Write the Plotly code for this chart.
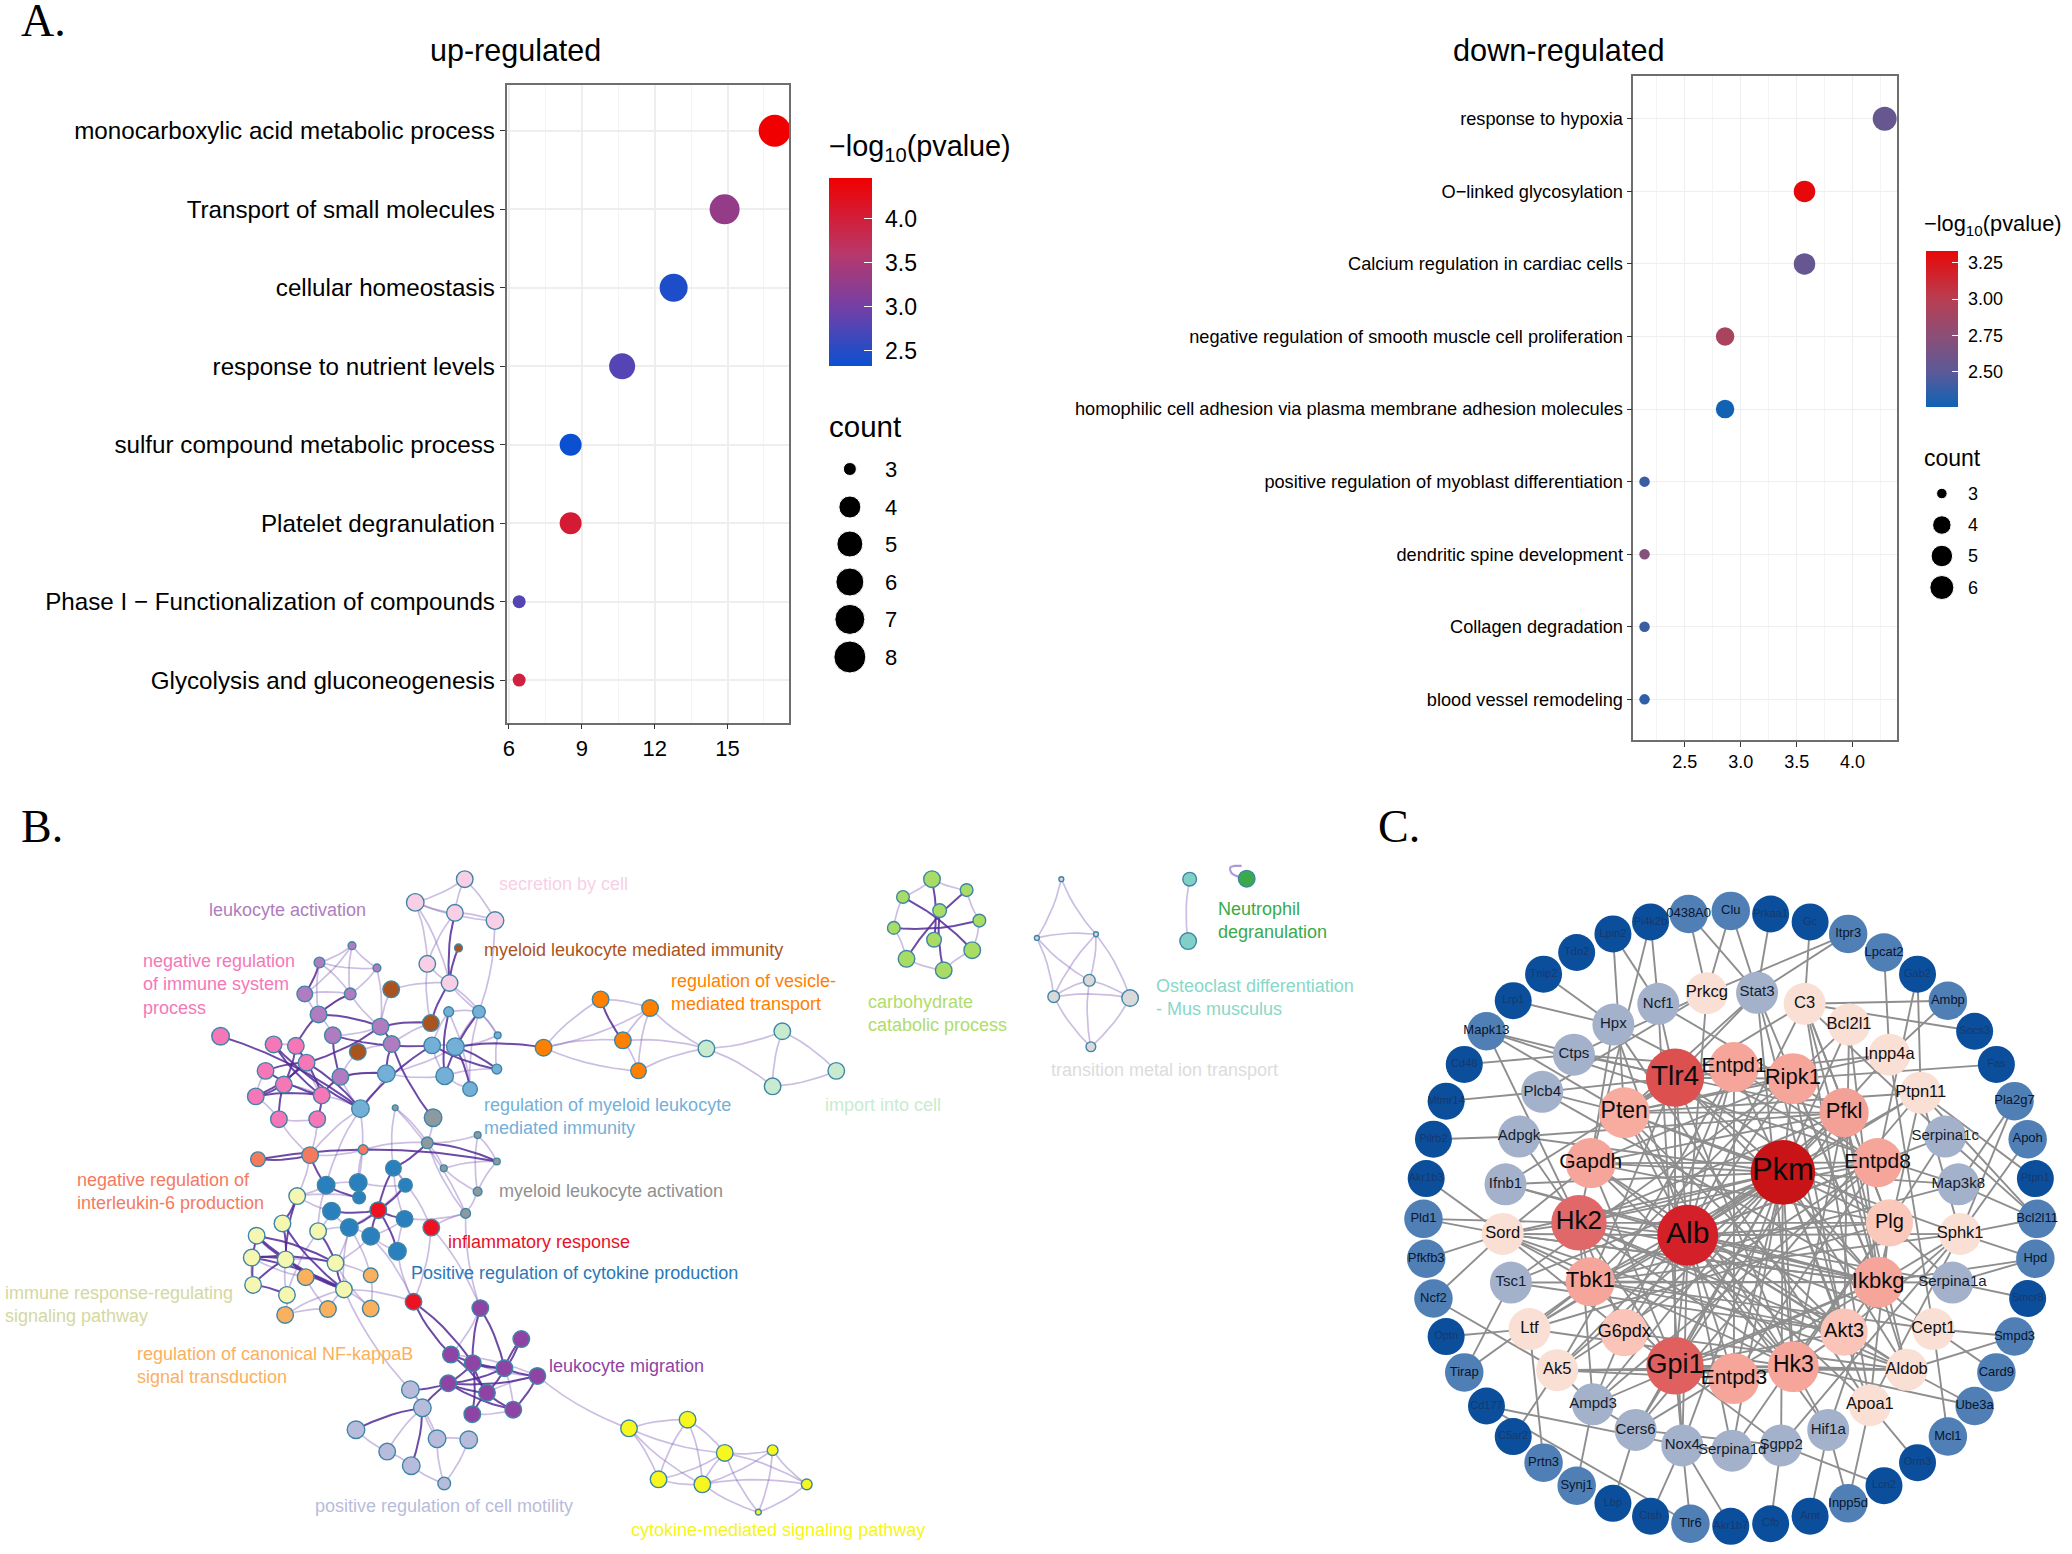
import plotly.graph_objects as go

W, H = 2072, 1554
SANS = "Liberation Sans"

# ---------- Panel A, up-regulated ----------
up_terms = ["monocarboxylic acid metabolic process", "Transport of small molecules", "cellular homeostasis",
            "response to nutrient levels", "sulfur compound metabolic process", "Platelet degranulation",
            "Phase I \u2212 Functionalization of compounds", "Glycolysis and gluconeogenesis"]
up_x = [16.94, 14.88, 12.78, 10.66, 8.54, 8.54, 6.42, 6.42]
up_count = [8, 7, 6, 5, 4, 4, 3, 3]
up_logp = [4.47, 3.3, 2.45, 2.8, 2.33, 4.05, 2.8, 3.95]
up_size = {3: 13, 4: 22, 5: 26, 6: 28, 7: 30, 8: 32}
up_cb_ticks = [2.5, 3.0, 3.5, 4.0]

# ---------- Panel A, down-regulated ----------
down_terms = ["response to hypoxia", "O\u2212linked glycosylation", "Calcium regulation in cardiac cells",
              "negative regulation of smooth muscle cell proliferation",
              "homophilic cell adhesion via plasma membrane adhesion molecules",
              "positive regulation of myoblast differentiation", "dendritic spine development",
              "Collagen degradation", "blood vessel remodeling"]
down_x = [4.287, 3.57, 3.57, 2.86, 2.86, 2.14, 2.14, 2.14, 2.14]
down_count = [6, 5, 5, 4, 4, 3, 3, 3, 3]
down_logp = [2.56, 3.33, 2.56, 2.92, 2.27, 2.40, 2.72, 2.40, 2.36]
down_size = {3: 10.5, 4: 18.5, 5: 21.5, 6: 24}
down_cb_ticks = [2.50, 2.75, 3.00, 3.25]

COLORSCALE_UP = [[0, "#0a50d0"], [0.3, "#7040a8"], [0.6, "#b8386a"], [1, "#f00000"]]
COLORSCALE_DOWN = [[0, "#0f62b5"], [0.22, "#5a5a98"], [0.45, "#8a4f78"], [0.69, "#b83e52"], [1, "#e80808"]]

# ---------- Panel B, network nodes (x, y, diameter as read from crops) ----------
# crop A: x/2.24, 840+y/2.196   crop B: 540+x/1.96, 840+y/2.196
S = [(1034,86,34),(923,137,36),(1012,160,34),(1102,177,36),(950,272,34),(1000,314,34)]
L = [(781,232,16),(708,269,22),(837,281,16),(675,338,32),(777,338,24),(706,383,34),(845,410,34),(738,429,34),(870,448,34),(755,520,34)]
N = [(486,431,36),(605,449,34),(655,452,34),(679,489,34),(587,507,34),(628,537,34),(565,563,34),(713,561,34),(617,613,34),(703,613,34)]
M = [(1020,237,16),(869,328,34),(958,402,34),(794,465,34)]
R = [(998,377,20),(1066,377,26),(1108,429,14),(961,451,34),(1013,454,36),(1106,503,20),(858,513,36),(989,518,36),(1046,547,30),(800,590,36)]
G = [(878,588,12),(963,610,36),(950,665,24),(1063,648,14),(1106,706,14),(987,721,14),(1063,772,18),(1036,820,20)]
I = [(570,701,30),(687,692,34),(806,680,20)]
P = [(874,721,32),(723,758,36),(795,752,36),(901,758,28),(797,785,26),(735,815,36),(899,832,34),(775,851,36),(823,870,36),(883,903,36)]
F = [(840,813,34),(959,851,34),(919,1014,34)]
Y = [(658,782,34),(625,842,34),(705,859,34),(567,869,34),(556,917,34),(632,921,34),(744,929,34),(559,977,34),(635,999,34),(763,987,34)]
O = [(677,960,34),(823,956,30),(727,1030,34),(823,1029,34),(631,1043,34)]
V = [(1069,1028,34),(1161,1096,34),(1003,1130,34),(1052,1149,34),(1123,1160,34),(1197,1177,34),(997,1193,34),(1084,1214,34),(1051,1261,34),(1143,1251,34)]
Q = [(912,1207,36),(939,1247,36),(790,1295,36),(972,1315,36),(1043,1317,36),(860,1343,34),(914,1374,36),(988,1413,26)]
T = [(1211,456,34),(1339,350,34),(1450,369,34),(1389,440,34),(1424,507,32)]
A = [(321,458,34),(470,420,34),(451,541,34),(576,507,34)]
C = [(169,1292,34),(284,1273,34),(357,1346,34),(451,1340,22),(227,1404,34),(313,1415,34),(518,1415,22),(423,1476,12)]
K = [(764,86,34),(832,110,26),(707,125,26),(779,155,28),(857,177,26),(689,193,26),(768,219,30),(843,242,34),(714,261,34),(787,286,34)]
X = [(1018,86,10),(1086,207,10),(970,215,10),(1073,308,24),(1003,344,24),(1153,347,34),(1076,454,20)]
Z = [(1270,86,28),(1267,222,34)]
E = [(1382,85,34)]

clusters_a = {"S": (S, "#f8cfe5"), "L": (L, "#b07cc0"), "N": (N, "#f577b8"), "M": (M, "#a9541f"), "R": (R, "#74afd8"),
              "G": (G, "#8c9aa0"), "I": (I, "#f47a5e"), "P": (P, "#2a80bd"), "F": (F, "#ee1122"), "Y": (Y, "#f5f7b0"),
              "O": (O, "#fbb05e"), "V": (V, "#8e44a4"), "Q": (Q, "#b8bcdc"), "T": (T, "#ff7f00")}
clusters_b = {"A": (A, "#c8ebcf"), "C": (C, "#f7f71f"), "K": (K, "#a8dc64"), "X": (X, "#d9d9d9"), "Z": (Z, "#80d0c8"),
              "E": (E, "#3aaa4a")}

dark_edges = """N0-R9 N1-R9 N2-N5 N3-N5 N4-N3 N6-N3 N5-N6 N5-N8 N7-N9 N1-N7 N2-N7 N4-N7 N6-N7 R9-N3 L1-L3 L4-L5 L5-L6 L5-N2
L6-N3 L8-R6 L6-L8 L7-L9 L9-R6 L8-G1 R9-R3 R3-R5 R4-R5 R1-R7 R4-R8 R0-R7 R4-T0 L7-R3 M2-S5 S2-S5 S5-M0 L9-N7 L6-M2
P1-P4 P2-P4 P0-F0 P3-F0 P5-F0 P6-F0 P7-F0 P8-F0 P9-F0 P1-I1 I0-I1 I0-G4 P0-G2 G2-G4 Y3-Y5 Y3-Y6 Y3-Y7 Y4-Y5 Y5-Y7 Y1-Y5
Y0-Y5 Y0-Y1 Y1-Y9 Y4-Y6 Y5-Y9 Y2-Y6 Y6-Y9 Y7-Y8 Y3-Y9 Y4-Y9 V0-V3 V0-V4 V1-V4 V1-V7 V2-V4 V2-V7 V3-V4 V3-V6 V3-V7 V4-V6
V4-V5 V5-V6 V6-V7 V5-V9 V7-V9 V8-V7 V8-V3 V9-V6 F2-V2 F2-V3 Q1-Q2 Q1-V6 Q0-V6 Q1-Q6 T1-T3 K0-K6 K1-K8 K2-K7 K3-K9 K4-K5"""
light_edges = """L0-L1 L0-L2 L0-L3 L0-L4 L1-L4 L1-L2 L2-L4 L1-L5 L2-L6 L3-L5 L3-L4 L4-L5 L5-L7 L4-L6 L6-L7 M1-L6 M1-S5 M2-L8 M3-L8 M3-L9
S0-S1 S0-S2 S0-S3 S1-S2 S2-S3 S1-S3 S1-S4 S2-S4 S3-R1 S4-S5 S1-S5 S5-R1 S5-R2 S4-M2 R0-R1 R0-R3 R1-R2 R1-R4 R2-R4 R2-R5 R3-R4
R3-R7 R7-R5 R7-R8 R0-R8 R1-R8 R4-R6 R6-R7 R6-R9 R6-L9 R9-L9 R9-P1 R9-P2 R9-I1 G1-G2 G2-G3 G3-G4 G3-G6 G2-G5 G5-G6 G6-G7 G2-G7
G0-G2 G0-P0 G0-G7 G4-G6 G5-G4 I1-I2 I2-G2 I2-P2 I1-Y0 N8-I1 N9-I1 P6-G7 F1-G7 F1-P0 P1-P2 P2-P3 P3-P7 P5-P7 P7-P8 P8-P9 P6-P8
P6-P9 P0-P3 P0-P6 P5-Y2 P7-Y2 P7-Y6 P7-Y9 P8-Y6 P4-Y0 P1-Y0 P1-Y2 P5-Y0 N4-N6 N6-N8 N8-N9 N5-N7 N3-N7 N1-N2 N2-N3 N7-R9
O0-Y5 O0-Y9 O0-O2 O0-Y4 O1-Y6 O1-O3 O2-O4 O2-Y9 O3-Y9 O3-Y6 O4-Y8 O4-Y9 O1-P7 Y9-F2 P9-F2 P8-F2 Y2-Y8 Y8-Y5 Y4-Y7 Y5-Y6
Y9-Q0 F1-V0 G7-V0 F1-F2 V5-C0 V0-V2 V3-V5 V2-V5 V5-V7 V4-V9 V8-V9 Q0-Q1 Q1-Q5 Q0-Q3 Q1-Q3 Q3-Q4 Q3-Q7 Q4-Q7 Q6-Q7 Q5-Q6 Q2-Q5
T1-T2 T2-T3 T0-T1 T0-T2 T0-T3 T0-T4 T3-T4 T2-T4 T4-A0 T2-A0 T3-A0 A0-A1 A0-A2 A1-A2 A1-A3 A2-A3
C0-C1 C0-C2 C0-C4 C0-C5 C1-C2 C1-C4 C1-C5 C2-C3 C2-C4 C2-C5 C2-C6 C2-C7 C3-C5 C3-C6 C3-C7 C4-C5 C5-C6 C5-C7 C6-C7
K0-K1 K0-K2 K2-K5 K5-K8 K8-K9 K9-K7 K7-K4 K4-K1 X0-X1 X0-X2 X1-X2 X1-X3 X1-X4 X1-X5 X2-X3 X2-X4 X3-X4 X3-X5 X3-X6 X4-X5 X4-X6 X5-X6 Z0-Z1"""
neutrophil_loop_x = [1370, 1352, 1350, 1358, 1372]
neutrophil_loop_y = [82, 72, 60, 57, 57]

b_labels_a = [("secretion by cell", 1118, 96, "#f8cfe5"), ("leukocyte activation", 467, 154, "#b07cc0"),
              ("myeloid leukocyte mediated immunity", 1085, 241, "#a9541f"),
              ("negative regulation<br>of immune system<br>process", 319, 317, "#f577b8"),
              ("regulation of myeloid leukocyte<br>mediated immunity", 1085, 608, "#74afd8"),
              ("myeloid leukocyte activation", 1118, 770, "#909090"),
              ("negative regulation of<br>interleukin-6 production", 170, 772, "#f47a5e"),
              ("inflammatory response", 1004, 882, "#e8102a"),
              ("Positive regulation of cytokine production", 920, 950, "#2a78b8"),
              ("immune response-regulating<br>signaling pathway", 8, 1020, "#d4d8a0"),
              ("regulation of canonical NF-kappaB<br>signal transduction", 305, 1155, "#fbb05e"),
              ("leukocyte migration", 1231, 1156, "#8e44a4"),
              ("positive regulation of cell motility", 704, 1463, "#b8bcdc")]
b_labels_b = [("regulation of vesicle-<br>mediated transport", 257, 335, "#ff7f00"),
              ("import into cell", 559, 581, "#c8ebcf"),
              ("cytokine-mediated signaling pathway", 178, 1515, "#f5f51a"),
              ("carbohydrate<br>catabolic process", 644, 381, "#b0dc6a"),
              ("Neutrophil<br>degranulation", 1331, 176, "#3aaa4a"),
              ("Osteoclast differentiation<br>- Mus musculus", 1210, 346, "#88d8c8"),
              ("transition metal ion transport", 1003, 506, "#dcdcdc")]

# ---------- Panel C, network nodes (name, x, y: 1360+x/2.202, 860+y/2.26) ----------
outer_dark = [("Prkaa1",903,122),("Gc",990,140),("Gab2",1227,258),("Socs3",1353,387),("Fas",1401,462),("Ptpn1",1487,720),
              ("Smcr8",1470,991),("Orm3",1227,1362),("Lcn2",1153,1414),("Arnt",990,1483),("Cfb",903,1500),("Akr1b7",815,1506),
              ("Ctsh",638,1483),("Lbp",555,1454),("C5ar2",335,1303),("Cd177",276,1234),("Optn",187,1077),("Akr1b3",143,720),
              ("Pilrb2",159,631),("Mtmr14",187,545),("Cd46",227,462),("Lrp1",335,318),("Tnip2",402,258),("Tdo2",475,209),
              ("Lpin2",555,167),("Pi4k2b",638,140)]
outer_mid = [("Clu",815,115),("Itpr3",1074,167),("Lpcat2",1153,209),("Ambp",1294,318),("Pla2g7",1441,545),("Apoh",1470,631),
             ("Bcl2l11",1491,811),("Hpd",1487,901),("Smpd3",1441,1077),("Card9",1401,1158),("Ube3a",1353,1234),("Mcl1",1294,1303),
             ("Inpp5d",1074,1454),("Tlr6",726,1500),("Synj1",475,1414),("Prtn3",402,1362),("Tirap",227,1158),("Ncf2",159,991),
             ("Pfkfb3",143,901),("Pld1",137,811),("Mapk13",276,387),("0438A0",722,122)]
ring_grey = [("Stat3",873,300),("Serpina1c",1288,625),("Map3k8",1317,733),("Serpina1a",1304,955),("Hif1a",1030,1288),
             ("Sgpp2",926,1323),("Serpina1d",818,1335),("Nox4",708,1323),("Cers6",605,1288),("Ampd3",511,1230),("Tsc1",330,955),
             ("Ifnb1",318,733),("Adpgk",348,625),("Plcb4",399,524),("Ctps",469,440),("Hpx",556,372),("Ncf1",655,325)]
ring_light = [("Prkcg",762,301),("C3",978,325),("Bcl2l1",1076,372),("Inpp4a",1165,440),("Ptpn11",1234,526),("Sphk1",1321,845),
              ("Cept1",1262,1060),("Aldob",1203,1152),("Apoa1",1122,1232),("Ak5",432,1153),("Ltf",371,1060),("Sord",312,845)]
# name, x, y, diameter, colour, font size
hubs = [("Tlr4",692,492,128,"#dc5050",28),("Entpd1",822,468,110,"#f5a59a",20.5),("Ripk1",952,494,112,"#f5a59a",22),
        ("Pfkl",1065,571,108,"#f3a097",22),("Entpd8",1139,684,108,"#f5a59a",21),("Plg",1165,820,104,"#fbc8bc",20),
        ("Ikbkg",1140,954,112,"#f5a59a",22),("Akt3",1065,1067,104,"#fbc4b8",20),("Hk3",953,1145,112,"#f5a59a",23),
        ("Entpd3",822,1172,112,"#f5a59a",21),("Gpi1",692,1143,126,"#e06060",27),("G6pdx",580,1068,104,"#fbc4b8",18),
        ("Tbk1",505,953,108,"#f5a59a",22),("Hk2",480,820,122,"#e06868",26),("Gapdh",506,685,110,"#f5a59a",21),
        ("Pten",580,571,112,"#f8aca0",23),("Pkm",930,706,142,"#c81416",31),("Alb",720,848,134,"#d42028",30)]

ppi_edges = """Sord-Pld1 Sord-Pfkfb3 Sord-Akr1b3 Sord-Ncf2 Adpgk-Pilrb2 Plcb4-Mtmr14 Ctps-Cd46 Hpx-Lrp1 Hpx-Tnip2 Ncf1-Lpin2 Ncf1-Pi4k2b
Prkcg-0438A0 Prkcg-Clu Stat3-0438A0 Stat3-Clu Stat3-Prkaa1 C3-Gc Prkcg-Itpr3 Stat3-Itpr3 C3-Ambp C3-Socs3 Inpp4a-Lpcat2 Ptpn11-Gab2
Ripk1-Fas Ambp-Inpp4a Ptpn11-Ptpn1 Map3k8-Pla2g7 Sphk1-Pla2g7 Sphk1-Apoh Serpina1a-Smcr8 Sphk1-Hpd Cept1-Card9 Aldob-Smpd3 Cept1-Smpd3
Aldob-Ube3a Hk3-Ube3a Ikbkg-Hpd Cept1-Mcl1 Apoa1-Orm3 Hif1a-Inpp5d Hif1a-Arnt Apoa1-Inpp5d Sgpp2-Cfb Sgpp2-Lcn2 Nox4-Akr1b7 Nox4-Tlr6
Nox4-Ctsh Cers6-Lbp Ampd3-Synj1 Ak5-C5ar2 Ltf-Prtn3 Tsc1-Tirap Ncf2-Ak5 Tirap-Tbk1 Mapk13-Hk2 Mapk13-Pten Cd177-Nox4 Optn-Ltf Tlr6-Cd177
Pi4k2b-Gapdh Lpin2-Pten Serpina1c-Bcl2l11 Serpina1a-Hpd Ptpn11-Bcl2l11 Sphk1-Bcl2l11 Map3k8-Bcl2l11 Gab2-Entpd8
Pkm-Alb Pkm-Tlr4 Pkm-Hk2 Pkm-Hk3 Pkm-Gpi1 Pkm-Pfkl Pkm-Gapdh Pkm-Ikbkg Pkm-Entpd1 Pkm-Entpd3 Pkm-Entpd8 Pkm-Plg Pkm-Aldob Pkm-Tbk1
Pkm-Akt3 Pkm-G6pdx Pkm-Ak5 Pkm-Pten Pkm-Ripk1 Pkm-Ampd3 Pkm-Sord Pkm-Sgpp2 Pkm-Map3k8 Pkm-Ptpn11 Pkm-Nox4 Pkm-Cers6 Pkm-Adpgk Pkm-Ifnb1
Pkm-Inpp4a Pkm-Bcl2l1 Pkm-Serpina1d Pkm-Ltf Pkm-Tsc1 Pkm-Apoa1
Alb-Tlr4 Alb-Hk2 Alb-Hk3 Alb-Gpi1 Alb-Pfkl Alb-Gapdh Alb-Ikbkg Alb-Entpd1 Alb-Entpd3 Alb-Entpd8 Alb-Plg Alb-Aldob Alb-Tbk1 Alb-Akt3
Alb-G6pdx Alb-Ak5 Alb-Pten Alb-Ripk1 Alb-Ptpn11 Alb-Serpina1c Alb-Serpina1a Alb-Serpina1d Alb-C3 Alb-Apoa1 Alb-Hpx Alb-Ifnb1 Alb-Sord
Alb-Cept1 Alb-Sphk1 Alb-Hif1a Alb-Nox4 Alb-Ltf Alb-Prkcg
Tlr4-Tbk1 Tlr4-Ripk1 Tlr4-Ikbkg Tlr4-Pten Tlr4-Gpi1 Tlr4-Stat3 Tlr4-Hk3 Tlr4-Plcb4 Tlr4-Mapk13 Tlr4-Ifnb1 Tlr4-Inpp4a Tlr4-Ncf1 Tlr4-Plg
Gpi1-Hk2 Gpi1-Hk3 Gpi1-Tbk1 Gpi1-Gapdh Gpi1-Pfkl Gpi1-Entpd3 Gpi1-Aldob Gpi1-Sgpp2 Gpi1-Nox4 Gpi1-Cers6 Gpi1-G6pdx Gpi1-Ikbkg Gpi1-Akt3
Hk2-Hk3 Hk2-Pfkl Hk2-Gapdh Hk2-Tbk1 Hk2-Plg Hk2-Sord Hk2-Aldob Hk2-Akt3 Hk2-Pld1 Hk2-Ikbkg Hk2-Entpd8 Hk2-Ampd3 Hk2-G6pdx
Tbk1-Ikbkg Tbk1-Ripk1 Tbk1-Akt3 Tbk1-Sord Tbk1-Sphk1 Tbk1-Serpina1a Tbk1-Map3k8 Tbk1-Cept1
Ikbkg-Ripk1 Ikbkg-Aldob Ikbkg-Cept1 Ikbkg-Sord Ikbkg-Akt3 Ikbkg-Plcb4 Ikbkg-Ampd3 Ikbkg-Pfkl Ikbkg-Ptpn11
Entpd1-Entpd3 Entpd1-Entpd8 Entpd1-Ak5 Entpd3-Entpd8 Entpd3-Ak5 Entpd8-Ak5 Entpd1-Ampd3 Entpd3-Hk3 Entpd8-Ampd3
Pfkl-Aldob Pfkl-Gapdh Pfkl-Hk3 Pfkl-Pten Pfkl-Ctps Pfkl-Ncf1 Gapdh-Aldob Gapdh-Hk3 Gapdh-Ripk1 Gapdh-Plg Gapdh-Sord Gapdh-Entpd8
Pten-Akt3 Pten-Ripk1 Pten-Inpp4a Pten-Plcb4 Pten-Ptpn11 Pten-Hk3 Pten-Sphk1 Akt3-Ripk1 Akt3-Hk3 Akt3-Sphk1 Akt3-Tsc1
Hk3-Aldob Hk3-Sord Plg-Apoa1 Plg-Serpina1c Plg-Serpina1d Plg-Serpina1a Plg-C3 Plg-Hk3 Bcl2l1-Ripk1 Bcl2l1-Ikbkg Bcl2l1-Akt3 C3-Apoa1 C3-Serpina1c C3-Plg
C3-Ikbkg C3-Pten Stat3-Pten Stat3-Akt3 Stat3-Hk3 Stat3-Ikbkg Prkcg-Plcb4 Prkcg-Ctps Ctps-Entpd1 Hpx-Entpd8 Hpx-Apoa1 Adpgk-Pfkl Adpgk-Hk2 Ifnb1-Ikbkg
Ltf-Hk3 Ltf-Plg Ltf-Tbk1 Ak5-Aldob Ak5-Hk3 Ak5-Ampd3 Ampd3-Cers6 Cers6-Sgpp2 Cers6-Sphk1 Cers6-Ptpn11 Nox4-Serpina1d Nox4-Ncf1 Sgpp2-Sphk1 Hif1a-Hk3 Hif1a-Ikbkg
Tsc1-Ikbkg Tsc1-Ripk1 Sord-Aldob Sord-G6pdx Sord-Ikbkg Apoa1-Sphk1 Aldob-G6pdx Cept1-Inpp4a Sphk1-Ptpn11 Mapk13-Map3k8 Hpx-Gapdh"""

# ---------- helpers ----------
def ax(p):
    return p[0] / 2.24, 840 + p[1] / 2.196

def bx(p):
    return 540 + p[0] / 1.96, 840 + p[1] / 2.196

def cx(x, y):
    return 1360 + x / 2.202, 860 + y / 2.26

pos = {}
node_traces = []
for group, conv in ((clusters_a, ax), (clusters_b, bx)):
    for key, (pts, col) in group.items():
        xs, ys, ds = [], [], []
        for i, p in enumerate(pts):
            x, y = conv(p)
            pos[f"{key}{i}"] = (x, y)
            xs.append(x); ys.append(y); ds.append(p[2] / 2.05)
        node_traces.append(go.Scatter(x=xs, y=ys, mode="markers", xaxis="x3", yaxis="y3", showlegend=False, hoverinfo="skip",
                                      marker=dict(size=ds, color=col, opacity=1, line=dict(color="#3f86a6", width=1.4))))

def curve(a, b, k):
    (x0, y0), (x1, y1) = a, b
    mx, my = (x0 + x1) / 2 - (y1 - y0) * k, (y0 + y1) / 2 + (x1 - x0) * k
    out_x, out_y = [], []
    for t in (0, .15, .3, .45, .6, .75, .9, 1):
        out_x.append((1-t)**2*x0 + 2*t*(1-t)*mx + t*t*x1)
        out_y.append((1-t)**2*y0 + 2*t*(1-t)*my + t*t*y1)
    return out_x + [None], out_y + [None]

def edge_trace(spec, colour, width):
    ex, ey = [], []
    for n, e in enumerate(spec.split()):
        a, b = e.split("-")
        xs, ys = curve(pos[a], pos[b], 0.09 if n % 2 else -0.09)
        ex += xs; ey += ys
    return go.Scatter(x=ex, y=ey, mode="lines", xaxis="x3", yaxis="y3", showlegend=False, hoverinfo="skip",
                      line=dict(color=colour, width=width))

fig = go.Figure()

# Panel A scatter plots
fig.add_trace(go.Scatter(x=up_x, y=up_terms, mode="markers", xaxis="x", yaxis="y", showlegend=False,
                         marker=dict(size=[up_size[c] for c in up_count], opacity=1, color=up_logp, coloraxis="coloraxis", line=dict(width=0))))
fig.add_trace(go.Scatter(x=down_x, y=down_terms, mode="markers", xaxis="x2", yaxis="y2", showlegend=False,
                         marker=dict(size=[down_size[c] for c in down_count], opacity=1, color=down_logp, coloraxis="coloraxis2", line=dict(width=0))))

# size legends
up_counts = list(up_size)
down_counts = list(down_size)
up_leg_y = [469, 507, 544, 582, 619.4, 657]
down_leg_y = [493.5, 525, 556, 587.5]
fig.add_trace(go.Scatter(x=[847.5]*6, y=up_leg_y, mode="markers", xaxis="x3", yaxis="y3", showlegend=False, hoverinfo="skip",
                         marker=dict(size=[up_size[c] for c in up_counts], color="black", opacity=1)))
fig.add_trace(go.Scatter(x=[1941.6]*4, y=down_leg_y, mode="markers", xaxis="x3", yaxis="y3", showlegend=False, hoverinfo="skip",
                         marker=dict(size=[down_size[c] for c in down_counts], color="black", opacity=1)))

# Panel B
fig.add_trace(edge_trace(light_edges, "rgba(140,110,190,0.45)", 1.7))
fig.add_trace(edge_trace(dark_edges, "rgba(82,42,150,0.85)", 2.0))
lx, ly = zip(*[bx((a, b)) for a, b in zip(neutrophil_loop_x, neutrophil_loop_y)])
fig.add_trace(go.Scatter(x=lx, y=ly, mode="lines", xaxis="x3", yaxis="y3", showlegend=False, hoverinfo="skip",
                         line=dict(color="rgba(140,110,190,0.7)", width=2.2, shape="spline")))
for t in node_traces:
    fig.add_trace(t)

# Panel C
cpos = {}
for grp in (outer_dark, outer_mid, ring_grey, ring_light):
    for n, x, y in grp:
        cpos[n] = cx(x, y)
for n, x, y, *_ in hubs:
    cpos[n] = cx(x, y)
ex, ey = [], []
for e in ppi_edges.split():
    a, b = e.split("-")
    ex += [cpos[a][0], cpos[b][0], None]
    ey += [cpos[a][1], cpos[b][1], None]
fig.add_trace(go.Scatter(x=ex, y=ey, mode="lines", xaxis="x3", yaxis="y3", showlegend=False, hoverinfo="skip",
                         line=dict(color="#8e8e8e", width=1.9)))

def ppi_nodes(names, xs, ys, sizes, colours, fonts, fcol):
    fig.add_trace(go.Scatter(x=xs, y=ys, text=names, mode="markers+text", textposition="middle center",
                             xaxis="x3", yaxis="y3", showlegend=False, hoverinfo="skip", cliponaxis=False,
                             marker=dict(size=sizes, color=colours, opacity=1, line=dict(width=0)),
                             textfont=dict(family=SANS, size=fonts, color=fcol)))

for grp, size, col, fs, fcol in ((outer_dark, 37, "#0b4f9c", 11, "#16386e"), (outer_mid, 38.5, "#4f7fb5", 13, "#08152e"),
                                 (ring_grey, 42, "#a4b1ca", 15, "#151c2c"), (ring_light, 42, "#f9dfd4", 16.5, "#101010")):
    ppi_nodes([n for n, _, _ in grp], [cpos[n][0] for n, _, _ in grp], [cpos[n][1] for n, _, _ in grp],
              size, col, fs, fcol)
ppi_nodes([h[0] for h in hubs], [cpos[h[0]][0] for h in hubs], [cpos[h[0]][1] for h in hubs],
          [h[3] / 2.2 for h in hubs], [h[4] for h in hubs], [h[5] for h in hubs], "#0c0c0c")

# colour bar geometry
UP_CB = dict(cmin=2.33, cmax=4.47, top=177.6, length=188)
DOWN_CB = dict(cmin=2.26, cmax=3.334, top=250.7, length=156.3)
def cb_y(v, cb):
    return cb["top"] + (cb["cmax"] - v) / (cb["cmax"] - cb["cmin"]) * cb["length"]

# annotations
ann = []
def label(text, x, y, size, color="black", family=SANS, anchor="left"):
    ann.append(dict(text=text, x=x, y=y, xref="x3", yref="y3", showarrow=False, xanchor=anchor, yanchor="middle",
                    xshift=-5 if anchor == "left" else -2,
                    font=dict(family=family, size=size, color=color), align="left"))

label("A.", 20, 20, 46, family="Liberation Serif")
label("B.", 20, 826, 46, family="Liberation Serif")
label("C.", 1380, 826, 46, family="Liberation Serif")
label("up-regulated", 514, 50.5, 30.5, anchor="center")
label("down-regulated", 1560, 50.5, 30.7, anchor="center")
label("\u2212log<sub>10</sub>(pvalue)", 829.5, 148, 28.8)
label("count", 829.5, 426, 29.5)
label("\u2212log<sub>10</sub>(pvalue)", 1926.8, 225, 21.8)
label("count", 1926.8, 457.7, 23)
for c, y in zip(up_counts, up_leg_y):
    label(str(c), 886, y, 22)
for c, y in zip(down_counts, down_leg_y):
    label(str(c), 1970.6, y, 18)
for v in up_cb_ticks:
    label(f"{v:.1f}", 886, cb_y(v, UP_CB), 23)
for v in down_cb_ticks:
    label(f"{v:.2f}", 1970.6, cb_y(v, DOWN_CB), 18)
for t, x, y, c in b_labels_a:
    label(t, *ax((x, y)), 18, c)
for t, x, y, c in b_labels_b:
    label(t, *bx((x, y)), 18, c)

GRID = "#eeeeee"
BORDER = "#6e6e6e"
def dom_x(a, b): return [a / W, b / W]
def dom_y(a, b): return [1 - b / H, 1 - a / H]

fig.update_layout(
    width=W, height=H, margin=dict(l=0, r=0, t=0, b=0), paper_bgcolor="white", plot_bgcolor="rgba(0,0,0,0)",
    font=dict(family=SANS, color="black"), showlegend=False, annotations=ann,
    xaxis=dict(domain=dom_x(503.5, 787), range=[5.9, 17.55], tickvals=[6, 9, 12, 15], tickfont=dict(size=22, color="black"),
               ticks="outside", ticklen=5, tickcolor="#333", gridcolor=GRID, gridwidth=1.6, zeroline=False,
               minor=dict(dtick=1.5, tick0=6, showgrid=True, gridcolor="#f4f4f4", gridwidth=1, ticks=""),
               showline=True, mirror=True, linecolor=BORDER, linewidth=1.5, anchor="y"),
    yaxis=dict(domain=dom_y(84.5, 722.5), type="category", categoryorder="array", categoryarray=up_terms,
               range=[7.54, -0.59], tickfont=dict(size=24.2, color="black"), ticks="outside", ticklen=5, tickcolor="#333",
               gridcolor=GRID, gridwidth=1.6, showline=True, mirror=True, linecolor=BORDER, linewidth=1.5, anchor="x"),
    xaxis2=dict(domain=dom_x(1632.5, 1897), range=[2.04, 4.40], tickvals=[2.5, 3.0, 3.5, 4.0], tickformat=".1f",
                tickfont=dict(size=18, color="black"), ticks="outside", ticklen=5, tickcolor="#333", gridcolor=GRID, gridwidth=1.4,
                zeroline=False, minor=dict(dtick=0.25, tick0=2.5, showgrid=True, gridcolor="#f4f4f4", gridwidth=1, ticks=""),
                showline=True, mirror=True, linecolor=BORDER, linewidth=1.5, anchor="y2"),
    yaxis2=dict(domain=dom_y(76, 740), type="category", categoryorder="array", categoryarray=down_terms,
                range=[8.56, -0.59], tickfont=dict(size=18.2, color="black"), ticks="outside", ticklen=5, tickcolor="#333",
                gridcolor=GRID, gridwidth=1.4, showline=True, mirror=True, linecolor=BORDER, linewidth=1.5, anchor="x2"),
    xaxis3=dict(domain=[0, 1], range=[0, W], visible=False, anchor="y3", fixedrange=True),
    yaxis3=dict(domain=[0, 1], range=[H, 0], visible=False, anchor="x3", fixedrange=True),
    coloraxis=dict(cmin=UP_CB["cmin"], cmax=UP_CB["cmax"], colorscale=COLORSCALE_UP,
                   colorbar=dict(x=826.5 / W, xanchor="left", xpad=0, y=1 - UP_CB["top"] / H, yanchor="top", ypad=0,
                                 lenmode="pixels", len=UP_CB["length"], thicknessmode="pixels", thickness=42.5, outlinewidth=0,
                                 tickvals=up_cb_ticks, showticklabels=False, ticks="inside", ticklen=8, tickcolor="white")),
    coloraxis2=dict(cmin=DOWN_CB["cmin"], cmax=DOWN_CB["cmax"], colorscale=COLORSCALE_DOWN,
                    colorbar=dict(x=1925.8 / W, xanchor="left", xpad=0, y=1 - DOWN_CB["top"] / H, yanchor="top", ypad=0,
                                  lenmode="pixels", len=DOWN_CB["length"], thicknessmode="pixels", thickness=31.6, outlinewidth=0,
                                  tickvals=down_cb_ticks, showticklabels=False, ticks="inside", ticklen=6, tickcolor="white")),
)
fig.write_html("out.html", post_script="document.body.style.margin='0';", config={"displayModeBar": False})
